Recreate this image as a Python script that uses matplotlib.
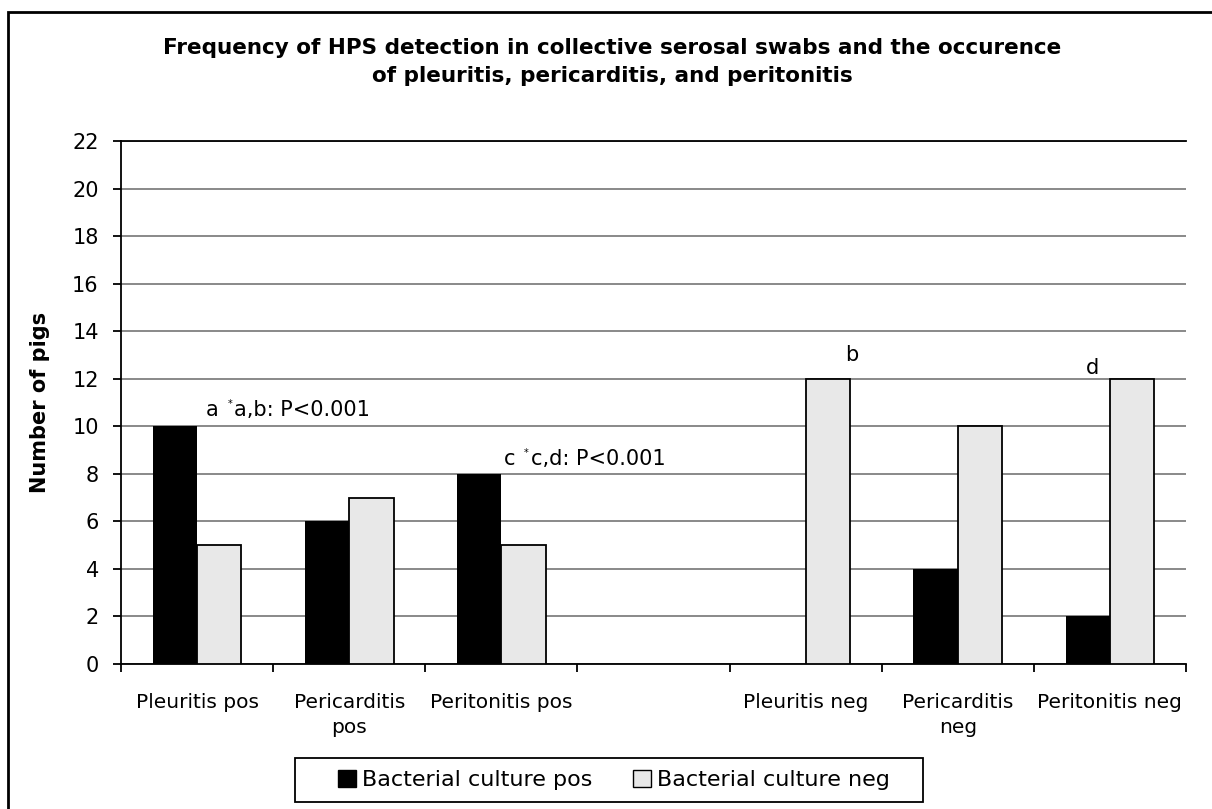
import matplotlib
matplotlib.use('Agg')
import matplotlib.pyplot as plt
import numpy as np
from matplotlib.patches import Rectangle, Patch

# categories (empty slot between pos and neg groups)
categories = ['Pleuritis pos', 'Pericarditis\npos', 'Peritonitis pos', '',
              'Pleuritis neg', 'Pericarditis\nneg', 'Peritonitis neg']
culture_pos = [10, 6, 8, np.nan, 0, 4, 2]
culture_neg = [5, 7, 5, np.nan, 12, 10, 12]
series_names = ['Bacterial culture pos', 'Bacterial culture neg']

fig = plt.figure(figsize=(12.12, 8.09), dpi=100)
ax = fig.add_axes([121 / 1212, 1 - 664 / 809, (1186 - 121) / 1212, (664 - 141) / 809])

x = np.arange(len(categories))
w = 0.292
ax.bar(x - w / 2, culture_pos, width=w, color='black', edgecolor='black', linewidth=0, zorder=3)
ax.bar(x + w / 2, culture_neg, width=w, color='#e8e8e8', edgecolor='black', linewidth=1.3, zorder=3)

ax.set_ylim(0, 22)
ax.set_xlim(-0.5, len(categories) - 0.5)
ax.set_yticks(np.arange(0, 23, 2))
ax.yaxis.grid(True, color='#808080', linewidth=1.3, zorder=0)
ax.set_axisbelow(True)
ax.tick_params(axis='y', labelsize=15, length=6, width=1.3, direction='out', pad=10)

# category labels centred, tick marks at category boundaries
ax.set_xticks(x)
ax.set_xticklabels(categories, fontsize=14.5, linespacing=1.4)
ax.tick_params(axis='x', which='major', length=0, pad=21)
ax.set_xticks(np.arange(-0.5, len(categories) - 0.4, 1), minor=True)
ax.tick_params(axis='x', which='minor', length=6, width=1.3, direction='out')

ax.spines['right'].set_visible(False)
ax.spines['left'].set_linewidth(1.3)
ax.spines['bottom'].set_linewidth(1.3)
ax.spines['top'].set_linewidth(1.3)

ax.set_ylabel('Number of pigs', fontsize=15, fontweight='bold', labelpad=16)

# significance annotations
ax.text(0.098, 10.43, 'a', fontsize=15, ha='center', va='baseline')
ax.text(0.215, 10.8, '*', fontsize=7, ha='center', va='baseline')
ax.text(0.245, 10.43, 'a,b: P<0.001', fontsize=15, ha='left', va='baseline')
ax.text(2.056, 8.37, 'c', fontsize=15, ha='center', va='baseline')
ax.text(2.165, 8.74, '*', fontsize=7, ha='center', va='baseline')
ax.text(2.195, 8.37, 'c,d: P<0.001', fontsize=15, ha='left', va='baseline')
ax.text(4.30, 12.75, 'b', fontsize=15, ha='center', va='baseline')
ax.text(5.886, 12.20, 'd', fontsize=15, ha='center', va='baseline')

fig.text(0.505, 1 - 62 / 809,
         'Frequency of HPS detection in collective serosal swabs and the occurence\n'
         'of pleuritis, pericarditis, and peritonitis',
         ha='center', va='center', fontsize=15.5, fontweight='bold', linespacing=1.45)

handles = [Patch(facecolor='black', edgecolor='black', linewidth=1),
           Patch(facecolor='#e8e8e8', edgecolor='black', linewidth=1)]
leg = fig.legend(handles, series_names, loc='center', bbox_to_anchor=(614 / 1212, 1 - 780 / 809),
                 ncol=2, fontsize=16, frameon=False,
                 handlelength=0.8, handleheight=0.8, handletextpad=0.3, columnspacing=1.8)

# legend box
fig.patches.append(Rectangle((295 / 1212, 1 - 802 / 809), (923 - 295) / 1212, 44 / 809,
                             transform=fig.transFigure, fill=False, edgecolor='black', linewidth=1.3))

# outer chart border
fig.patches.append(Rectangle((8 / 1212, -0.2), 1.2, 1.2 - 12 / 809, transform=fig.transFigure,
                             fill=False, edgecolor='black', linewidth=2, clip_on=False))

fig.savefig('out.png', dpi=100)
